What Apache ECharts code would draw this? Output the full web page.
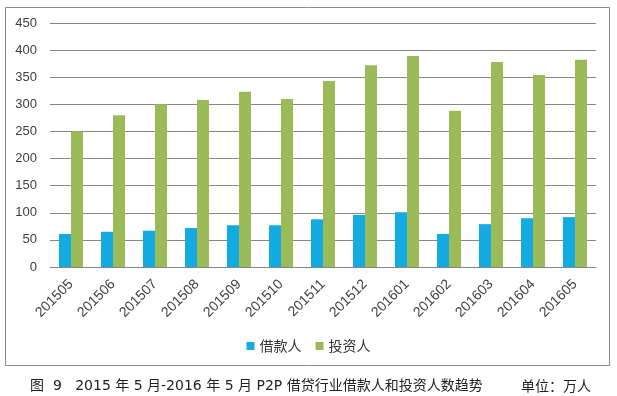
<!DOCTYPE html>
<html><head><meta charset="utf-8">
<script src="https://cdn.jsdelivr.net/npm/echarts@6/dist/echarts.min.js"></script>
<style>html,body{margin:0;padding:0;background:#fff;}#c{width:617px;height:396px;}</style>
</head><body><div id="c"></div>
<script>
const categories = ['201505','201506','201507','201508','201509','201510','201511','201512','201601','201602','201603','201604','201605'];
const borrowers = [61,65,67,72,77,77,88,96,101,61,79,90,92];
const investors = [250,280,300,308,323,310,343,372,389,288,378,354,382];
const seriesNames = ['借款人','投资人'];
const captionText = '图  9   2015 年 5 月-2016 年 5 月 P2P 借贷行业借款人和投资人数趋势';
const unitText = '单位：万人';

const chart = echarts.init(document.getElementById('c'), null, {renderer:'canvas'});
chart.setOption({
  animation:false,
  backgroundColor:'#fff',
  graphic:[{type:'rect',shape:{x:5.5,y:7.5,width:604,height:358},style:{fill:'none',stroke:'#8c8c8c',lineWidth:1},z:-1}],
  title:[
    {text:captionText,left:25,top:374,textStyle:{fontFamily:'DejaVu Sans, Noto Sans CJK SC',fontSize:14,fontWeight:'normal',color:'#222'}},
    {text:unitText,left:516,top:374,textStyle:{fontFamily:'Noto Sans CJK SC',fontSize:14,fontWeight:'normal',color:'#222'}}
  ],
  legend:{data:seriesNames,top:334,left:'center',itemWidth:8,itemHeight:8,itemGap:14,icon:'rect',
    textStyle:{fontFamily:'Noto Sans CJK SC',fontSize:14,color:'#333'}},
  grid:{left:50,right:21,top:23,bottom:129,containLabel:false},
  xAxis:{type:'category',data:categories,
    axisLine:{lineStyle:{color:'#868686'}},axisTick:{show:false},
    axisLabel:{rotate:45,interval:0,margin:15,fontFamily:'Liberation Sans',fontSize:14,color:'#404040'}},
  yAxis:{type:'value',min:0,max:450,interval:50,
    axisLine:{show:false},axisTick:{show:false},
    splitLine:{lineStyle:{color:'#868686'}},
    axisLabel:{margin:13,fontFamily:'Liberation Sans',fontSize:13,color:'#404040'}},
  series:[
    {name:seriesNames[0],type:'bar',data:borrowers,barWidth:12,barGap:'0%',itemStyle:{color:'#14ABE3'}},
    {name:seriesNames[1],type:'bar',data:investors,barWidth:12,barGap:'0%',itemStyle:{color:'#9BBB59'}}
  ]
});
</script></body></html>
